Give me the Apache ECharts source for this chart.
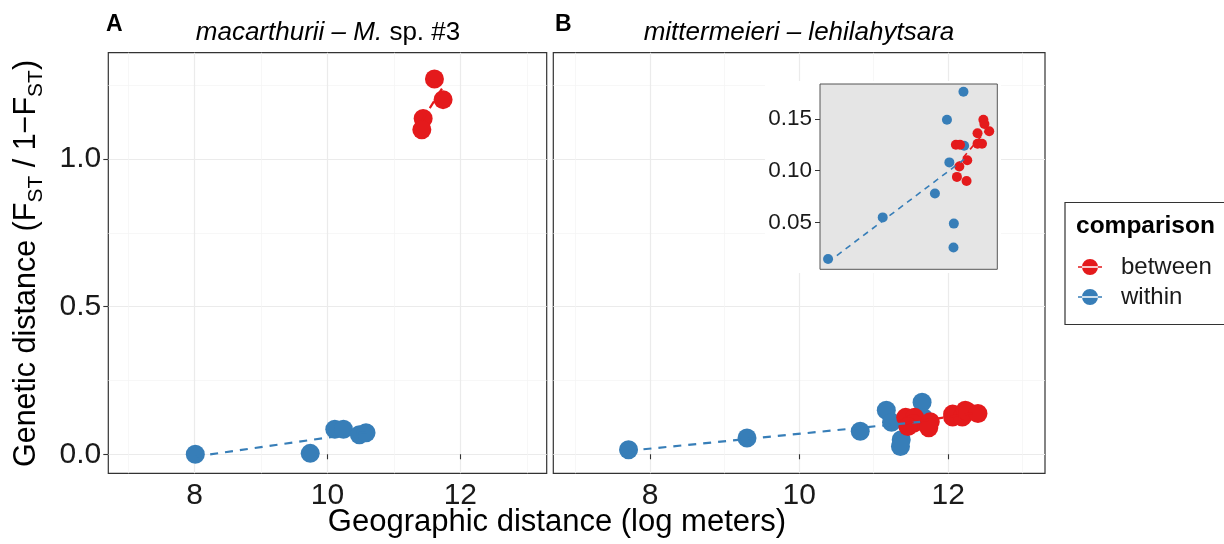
<!DOCTYPE html>
<html><head><meta charset="utf-8">
<script src="https://cdn.jsdelivr.net/npm/echarts@6/dist/echarts.min.js"></script>
<style>html,body{margin:0;padding:0;background:#fff}#c{width:1224px;height:544px}</style>
</head><body><div id="c"></div>
<script>
// ---- tick values ----
const xTicksMajor = [8, 10, 12];
const xTicksMinor = [7, 9, 11, 13];
const yTicksMajor = [0, 0.5, 1.0];
const yTicksMinor = [0.25, 0.75, 1.25];
const insetYTicks = [0.05, 0.10, 0.15];

// ---- data: [geographic distance (log m), genetic distance] ----
const aWithin  = [[8.01,0.000],[9.74,0.003],[10.11,0.085],[10.24,0.085],[10.48,0.066],[10.58,0.073]];
const aBetween = [[11.61,1.271],[11.74,1.201],[11.44,1.137],[11.42,1.099]];
const bWithin  = [[7.71,0.015],[9.30,0.055],[10.82,0.078],[11.17,0.149],[11.24,0.108],[11.65,0.176],[11.37,0.049],[11.36,0.026],[11.67,0.124]];
const bBetween = [[11.43,0.125],[11.55,0.125],[11.53,0.104],[11.76,0.110],[11.46,0.094],[11.74,0.090],[12.06,0.136],[12.06,0.126],[12.19,0.126],[12.23,0.149],[12.26,0.145],[12.40,0.138]];

const RED = '#E41A1C', BLUE = '#377EB8';
const FONT = "'Liberation Sans', Arial, Helvetica, sans-serif";
const TXT = '#1a1a1a';

function fit(pts){
  const n = pts.length; let mx=0,my=0;
  pts.forEach(p=>{mx+=p[0];my+=p[1];}); mx/=n; my/=n;
  let sxy=0,sxx=0;
  pts.forEach(p=>{sxy+=(p[0]-mx)*(p[1]-my); sxx+=(p[0]-mx)*(p[0]-mx);});
  const b=sxy/sxx, a=my-b*mx;
  const xs=pts.map(p=>p[0]); const x0=Math.min(...xs), x1=Math.max(...xs);
  return [[x0,a+b*x0],[x1,a+b*x1]];
}

function xAx(grid, major, showLabels){
  const vals = major ? xTicksMajor : xTicksMinor;
  return {type:'value', gridIndex:grid, min:6.7, max:13.3, position:'bottom',
    axisLine:{show:false},
    axisTick:{show:major, customValues:vals, length:5, lineStyle:{color:'#333',width:1.1}},
    axisLabel:{show:major&&showLabels, customValues:vals, fontSize:30, fontFamily:FONT, color:TXT, margin:7,
      formatter:v=>String(Math.round(v))},
    splitLine:{show:true, customValues:vals, lineStyle:{color: major?'#EBEBEB':'#F4F4F4', width: major?1.2:0.7}}
  };
}
function yAx(grid, major, showLabels){
  const vals = major ? yTicksMajor : yTicksMinor;
  return {type:'value', gridIndex:grid, min:-0.0645, max:1.36, position:'left',
    axisLine:{show:false},
    axisTick:{show:major&&showLabels, customValues:vals, length:5, lineStyle:{color:'#333',width:1.1}},
    axisLabel:{show:major&&showLabels, customValues:vals, fontSize:30, fontFamily:FONT, color:TXT, margin:7,
      formatter:v=>v.toFixed(1)},
    splitLine:{show:true, customValues:vals, lineStyle:{color: major?'#EBEBEB':'#F4F4F4', width: major?1.2:0.7}}
  };
}

function pts(name, data, xi, color, size, z){
  return {type:'scatter', name, data, xAxisIndex:xi, yAxisIndex:xi, symbol:'circle', symbolSize:size,
    itemStyle:{color, opacity:1}, z, silent:true, animation:false};
}
function line(data, xi, color, width, dash, z){
  return {type:'line', name:'fit', data, xAxisIndex:xi, yAxisIndex:xi, symbol:'none', showSymbol:false,
    lineStyle:{color, width, type:dash}, z, silent:true, animation:false};
}

const option = {
  backgroundColor:'#fff',
  animation:false,
  grid:[
    {left:108.3, top:52.7, width:438.4, height:420.6, show:true, borderColor:'#333', borderWidth:1.2, backgroundColor:'#fff'},
    {left:553.3, top:52.7, width:491.7, height:420.6, show:true, borderColor:'#333', borderWidth:1.2, backgroundColor:'#fff'},
    {left:820, top:84, width:177.3, height:185.3, show:true, borderColor:'#555', borderWidth:1, backgroundColor:'#E5E5E5', z:2}
  ],
  xAxis:[
    xAx(0,true,true), xAx(0,false,false), xAx(1,true,true), xAx(1,false,false),
    {type:'value', gridIndex:2, min:7.475, max:12.635, z:3, axisLine:{show:false}, axisTick:{show:false}, axisLabel:{show:false}, splitLine:{show:false}}
  ],
  yAxis:[
    yAx(0,true,true), yAx(0,false,false), yAx(1,true,false), yAx(1,false,false),
    {type:'value', gridIndex:2, min:0.005, max:0.1835, z:3, axisLine:{show:false},
      axisTick:{show:true, customValues:insetYTicks, length:5, lineStyle:{color:'#333',width:1}},
      axisLabel:{show:true, customValues:insetYTicks, fontSize:22.5, fontFamily:FONT, color:TXT, margin:8, formatter:v=>v.toFixed(2)},
      splitLine:{show:false}}
  ],
  legend:{
    data:['between','within'], orient:'vertical', left:1078, top:255, padding:0, itemWidth:24, itemHeight:18, itemGap:6,
    icon:'path://M0,9.2L24,9.2L24,10.8L0,10.8Z M4,10A8,8,0,1,0,20,10A8,8,0,1,0,4,10Z',
    textStyle:{fontSize:24, fontFamily:FONT, color:TXT, padding:[0,0,0,14]},
    selectedMode:false
  },
  graphic:[
    {type:'rect', z:1, silent:true, shape:{x:765, y:81, width:236, height:192}, style:{fill:'#fff'}},
    {type:'rect', z:0, silent:true, shape:{x:1065, y:202.5, width:200, height:122}, style:{fill:'#fff', stroke:'#333', lineWidth:1.2}},
    {type:'text', z:5, x:1076, y:226, style:{text:'comparison', fontSize:24.5, fontWeight:'bold', fontFamily:FONT, fill:'#000', align:'left', verticalAlign:'middle'}},
    {type:'text', z:5, x:106, y:25, style:{text:'A', fontSize:23, fontWeight:'bold', fontFamily:FONT, fill:'#000', align:'left', verticalAlign:'middle'}},
    {type:'text', z:5, x:555, y:25, style:{text:'B', fontSize:23, fontWeight:'bold', fontFamily:FONT, fill:'#000', align:'left', verticalAlign:'middle'}},
    {type:'text', z:5, x:328, y:32.5, style:{text:'{i|macarthurii – M.}{r| sp. #3}', align:'center', verticalAlign:'middle',
      fontSize:26, fontFamily:FONT, fill:'#000',
      rich:{i:{fontStyle:'italic', fontSize:26, fontFamily:FONT, fill:'#000'}, r:{fontSize:26, fontFamily:FONT, fill:'#000'}}}},
    {type:'text', z:5, x:799, y:32.5, style:{text:'mittermeieri – lehilahytsara', align:'center', verticalAlign:'middle',
      fontSize:26, fontStyle:'italic', fontFamily:FONT, fill:'#000'}},
    {type:'text', z:5, x:557, y:522, style:{text:'Geographic distance (log meters)', align:'center', verticalAlign:'middle',
      fontSize:31, fontFamily:FONT, fill:'#000'}},
    {type:'text', z:5, x:27, y:263.5, rotation:Math.PI/2, style:{
      text:'{a|Genetic distance (F}{s|ST}{a| / 1−F}{s|ST}{a|)}', align:'center', verticalAlign:'middle',
      fontSize:30.5, fontFamily:FONT, fill:'#000',
      rich:{a:{fontSize:30.5, fontFamily:FONT, fill:'#000', lineHeight:40}, s:{fontSize:21, fontFamily:FONT, fill:'#000', lineHeight:21, verticalAlign:'bottom'}}}}
  ],
  series:[
    pts('within', aWithin, 0, BLUE, 19, 2),
    pts('between', aBetween, 0, RED, 19, 2),
    line(fit(aWithin), 0, BLUE, 2.2, [8,7], 3),
    line(fit(aBetween), 0, RED, 2.2, [8,7], 3),
    pts('within', bWithin, 2, BLUE, 19, 2),
    pts('between', bBetween, 2, RED, 19, 2),
    line(fit(bWithin), 2, BLUE, 2.2, [8,7], 3),
    line(fit(bBetween), 2, RED, 2.2, [8,7], 3),
    pts('within', bWithin, 4, BLUE, 10, 4),
    pts('between', bBetween, 4, RED, 10, 4),
    line(fit(bWithin), 4, BLUE, 1.6, [6,5], 5),
    line(fit(bBetween), 4, RED, 1.6, [6,5], 5)
  ]
};
const chart = echarts.init(document.getElementById('c'), null, {renderer:'canvas'});
chart.setOption(option);
</script></body></html>
